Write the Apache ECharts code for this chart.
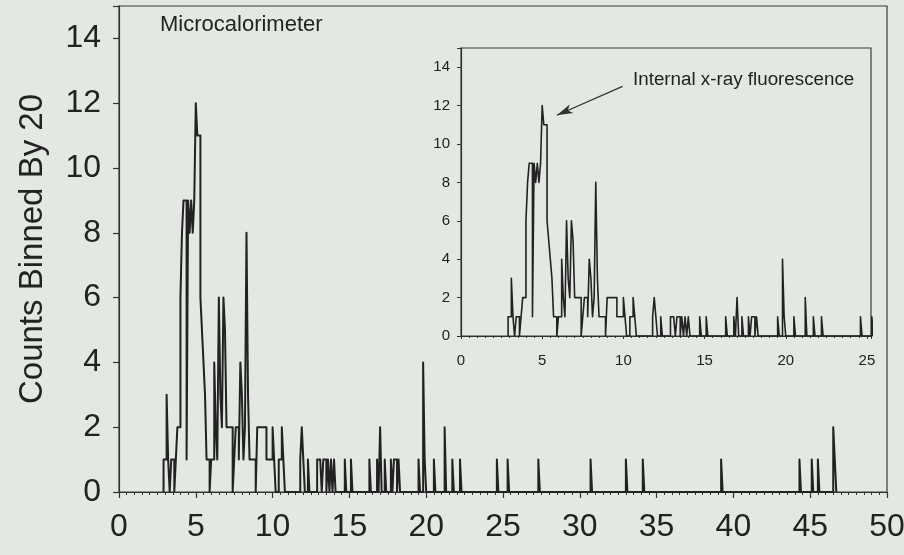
<!DOCTYPE html>
<html>
<head>
<meta charset="utf-8">
<script src="https://cdn.jsdelivr.net/npm/echarts@6/dist/echarts.min.js"></script>
<style>
  html, body { margin: 0; padding: 0; background: #e3e8e2; }
  #chart { width: 904px; height: 555px; }
</style>
</head>
<body>
<div id="chart"></div>
<script>
// ---- Data ----
const binWidth = 0.1;
// bin left edges (energy) and counts per bin
const binStart = [
  2.9, 3.0, 3.1, 3.2, 3.3, 3.4, 3.5, 3.6, 3.7, 3.8, 3.9,
  4.0, 4.1, 4.2, 4.3, 4.4, 4.5, 4.6, 4.7, 4.8, 4.9,
  5.0, 5.1, 5.2, 5.3, 5.4, 5.5, 5.6, 5.7, 5.8, 5.9,
  6.0, 6.1, 6.2, 6.3, 6.4, 6.5, 6.6, 6.7, 6.8, 6.9,
  7.0, 7.1, 7.2, 7.3, 7.4, 7.5, 7.6, 7.7, 7.8, 7.9,
  8.0, 8.1, 8.2, 8.3, 8.4, 8.5, 8.6, 8.7, 8.8, 8.9,
  9.0, 9.1, 9.2, 9.3, 9.4, 9.5, 9.6, 9.7, 9.8, 9.9,
  10.0, 10.1, 10.2, 10.3, 10.4, 10.5, 10.6, 10.7,
  11.8, 11.9, 12.0, 12.3,
  12.9, 13.0, 13.1, 13.3, 13.4, 13.6, 13.8, 14.0,
  14.7, 15.1,
  16.3, 16.8, 17.0, 17.3, 17.7, 17.9, 18.0, 18.2,
  19.5, 19.8, 19.9,
  20.5, 21.2, 21.7, 22.2,
  24.6, 25.3, 27.3, 30.7, 33.0, 34.1, 39.2,
  44.3, 45.1, 45.5, 46.5, 46.6
];
const counts = [
  1, 1, 3, 1, 0, 1, 1, 0, 1, 2, 2,
  6, 8, 9, 9, 1, 9, 8, 9, 8, 9,
  12, 11, 11, 6, 5, 4, 3, 1, 1, 0,
  1, 1, 4, 2, 1, 6, 3, 2, 6, 5,
  2, 2, 2, 2, 0, 1, 2, 2, 1, 4,
  3, 1, 2, 8, 3, 1, 1, 1, 1, 0,
  2, 2, 2, 2, 2, 2, 1, 1, 1, 1,
  2, 1, 0, 0, 1, 1, 2, 1,
  1, 2, 1, 1,
  1, 1, 1, 1, 1, 1, 1, 1,
  1, 1,
  1, 1, 2, 1, 1, 1, 1, 1,
  1, 4, 1,
  1, 2, 1, 1,
  1, 1, 1, 1, 1, 1, 1,
  1, 1, 1, 2, 1
];
const mainXTicks = [0, 5, 10, 15, 20, 25, 30, 35, 40, 45, 50];
const yTicks = [0, 2, 4, 6, 8, 10, 12, 14];
const insetXTicks = [0, 5, 10, 15, 20, 25];
const arrowFrom = [9.95, 13.0];
const arrowTo = [5.9, 11.5];

// ---- Build step (histogram outline) points from the bins ----
function r2(v) { return Math.round(v * 1000) / 1000; }
function buildStep(xs, cs, w) {
  const pts = [];
  let prevEnd = null;
  for (let i = 0; i < xs.length; i++) {
    const c = cs[i];
    if (c <= 0) continue;
    const x0 = r2(xs[i]);
    const x1 = r2(xs[i] + w);
    if (prevEnd === null || Math.abs(prevEnd - x0) > 1e-6) {
      if (prevEnd !== null) pts.push([prevEnd, 0]);
      pts.push([x0, 0]);
    }
    pts.push([x0, c]);
    pts.push([x1, c]);
    prevEnd = x1;
  }
  if (prevEnd !== null) pts.push([prevEnd, 0]);
  return pts;
}
const stepData = buildStep(binStart, counts, binWidth);

const FONT = "'Liberation Sans', Arial, sans-serif";
const chart = echarts.init(document.getElementById('chart'), null, { renderer: 'canvas' });

const option = {
  backgroundColor: '#e3e8e2',
  animation: false,
  grid: [
    { left: 119, right: 17, top: 6, bottom: 63, containLabel: false, outerBoundsMode: 'none',
      show: true, borderColor: '#3a3a3a', borderWidth: 1.2, backgroundColor: 'transparent' },
    { left: 461, right: 33, top: 48, bottom: 219, containLabel: false, outerBoundsMode: 'none',
      show: true, borderColor: '#3a3a3a', borderWidth: 1.2, backgroundColor: 'transparent' }
  ],
  xAxis: [
    {
      gridIndex: 0, type: 'value', min: 0, max: 50, interval: 5,
      axisLine: { show: true, onZero: false, lineStyle: { color: '#333', width: 1.2 } },
      axisTick: { show: true, length: 6, lineStyle: { color: '#333', width: 1.2 } },
      minorTick: { show: true, splitNumber: 10, length: 3, lineStyle: { color: '#333', width: 1 } },
      axisLabel: { fontSize: 32, color: '#222', fontFamily: FONT, margin: 19,
        formatter: v => mainXTicks.includes(v) ? String(v) : '' },
      splitLine: { show: false }
    },
    {
      gridIndex: 1, type: 'value', min: 0, max: 25.25, interval: 5,
      axisLine: { show: true, onZero: false, lineStyle: { color: '#333', width: 1.2 } },
      axisTick: { show: true, length: 3, lineStyle: { color: '#333', width: 1 } },
      minorTick: { show: true, splitNumber: 10, length: 2, lineStyle: { color: '#333', width: 1 } },
      axisLabel: { fontSize: 15, color: '#222', fontFamily: FONT, margin: 17,
        formatter: v => insetXTicks.includes(v) ? String(v) : '' },
      splitLine: { show: false }
    }
  ],
  yAxis: [
    {
      gridIndex: 0, type: 'value', min: 0, max: 15, interval: 2,
      name: 'Counts Binned By 20', nameLocation: 'middle', nameGap: 70,
      nameTextStyle: { fontSize: 33, color: '#222', fontFamily: FONT },
      axisLine: { show: true, lineStyle: { color: '#333', width: 1.2 } },
      axisTick: { show: true, length: 6, lineStyle: { color: '#333', width: 1.2 } },
      axisLabel: { fontSize: 32, color: '#222', fontFamily: FONT, margin: 18,
        formatter: v => yTicks.includes(v) ? String(v) : '' },
      splitLine: { show: false }
    },
    {
      gridIndex: 1, type: 'value', min: 0, max: 15, interval: 2,
      axisLine: { show: true, lineStyle: { color: '#333', width: 1.2 } },
      axisTick: { show: true, length: 4, lineStyle: { color: '#333', width: 1 } },
      axisLabel: { fontSize: 15, color: '#222', fontFamily: FONT, margin: 11,
        formatter: v => yTicks.includes(v) ? String(v) : '' },
      splitLine: { show: false }
    }
  ],
  series: [
    {
      type: 'line', xAxisIndex: 0, yAxisIndex: 0, data: stepData,
      showSymbol: false, symbol: 'none', clip: true,
      lineStyle: { color: '#222', width: 2, join: 'round' }
    },
    {
      type: 'line', xAxisIndex: 1, yAxisIndex: 1, data: stepData,
      showSymbol: false, symbol: 'none', clip: true,
      lineStyle: { color: '#222', width: 1.6, join: 'round' },
      markLine: {
        silent: true, symbol: ['none', 'arrow'], symbolSize: [7, 16],
        lineStyle: { color: '#333', width: 1.2, type: 'solid' },
        label: { show: false },
        data: [[{ coord: arrowFrom }, { coord: arrowTo }]]
      }
    }
  ],
  graphic: [
    { type: 'text', left: 160, top: 14,
      style: { text: 'Microcalorimeter', fontSize: 22, fill: '#222', fontFamily: FONT } },
    { type: 'text', left: 633, top: 70,
      style: { text: 'Internal x-ray fluorescence', fontSize: 18.8, fill: '#222', fontFamily: FONT } }
  ]
};
chart.setOption(option);
</script>
</body>
</html>
